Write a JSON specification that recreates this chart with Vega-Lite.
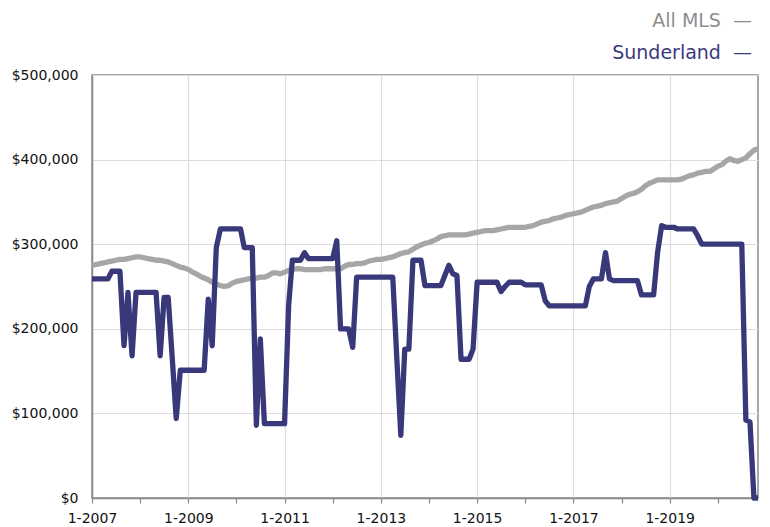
{
  "$schema": "https://vega.github.io/schema/vega-lite/v6.json",
  "autosize": "none",
  "width": 666,
  "height": 423,
  "padding": {"left": 92, "top": 75, "right": 12, "bottom": 29},
  "background": "white",
  "config": {
    "font": "DejaVu Sans",
    "view": {"stroke": "#8a8a8a", "strokeWidth": 1.5},
    "axis": {"labelFont": "DejaVu Sans", "labelColor": "#111", "domainColor": "#8a8a8a", "tickColor": "#8a8a8a", "gridColor": "#dcdcdc", "gridWidth": 1.2, "title": null}
  },
  "data": {"values": [
    {"date":"2007-01-01","All MLS":275000,"Sunderland":259000},
    {"date":"2007-02-01","All MLS":276000,"Sunderland":259000},
    {"date":"2007-03-01","All MLS":277000,"Sunderland":259000},
    {"date":"2007-04-01","All MLS":278000,"Sunderland":259000},
    {"date":"2007-05-01","All MLS":279000,"Sunderland":259000},
    {"date":"2007-06-01","All MLS":280000,"Sunderland":268000},
    {"date":"2007-07-01","All MLS":281000,"Sunderland":268000},
    {"date":"2007-08-01","All MLS":282000,"Sunderland":268000},
    {"date":"2007-09-01","All MLS":282000,"Sunderland":180000},
    {"date":"2007-10-01","All MLS":283000,"Sunderland":243000},
    {"date":"2007-11-01","All MLS":284000,"Sunderland":168000},
    {"date":"2007-12-01","All MLS":285000,"Sunderland":243000},
    {"date":"2008-01-01","All MLS":285000,"Sunderland":243000},
    {"date":"2008-02-01","All MLS":284000,"Sunderland":243000},
    {"date":"2008-03-01","All MLS":283000,"Sunderland":243000},
    {"date":"2008-04-01","All MLS":282000,"Sunderland":243000},
    {"date":"2008-05-01","All MLS":281000,"Sunderland":243000},
    {"date":"2008-06-01","All MLS":281000,"Sunderland":168000},
    {"date":"2008-07-01","All MLS":280000,"Sunderland":237000},
    {"date":"2008-08-01","All MLS":279000,"Sunderland":237000},
    {"date":"2008-09-01","All MLS":277000,"Sunderland":165000},
    {"date":"2008-10-01","All MLS":275000,"Sunderland":94000},
    {"date":"2008-11-01","All MLS":273000,"Sunderland":151000},
    {"date":"2008-12-01","All MLS":272000,"Sunderland":151000},
    {"date":"2009-01-01","All MLS":270000,"Sunderland":151000},
    {"date":"2009-02-01","All MLS":267000,"Sunderland":151000},
    {"date":"2009-03-01","All MLS":265000,"Sunderland":151000},
    {"date":"2009-04-01","All MLS":262000,"Sunderland":151000},
    {"date":"2009-05-01","All MLS":260000,"Sunderland":151000},
    {"date":"2009-06-01","All MLS":258000,"Sunderland":235000},
    {"date":"2009-07-01","All MLS":255000,"Sunderland":180000},
    {"date":"2009-08-01","All MLS":253000,"Sunderland":296000},
    {"date":"2009-09-01","All MLS":251000,"Sunderland":318000},
    {"date":"2009-10-01","All MLS":250000,"Sunderland":318000},
    {"date":"2009-11-01","All MLS":251000,"Sunderland":318000},
    {"date":"2009-12-01","All MLS":254000,"Sunderland":318000},
    {"date":"2010-01-01","All MLS":256000,"Sunderland":318000},
    {"date":"2010-02-01","All MLS":257000,"Sunderland":318000},
    {"date":"2010-03-01","All MLS":258000,"Sunderland":296000},
    {"date":"2010-04-01","All MLS":259000,"Sunderland":296000},
    {"date":"2010-05-01","All MLS":260000,"Sunderland":296000},
    {"date":"2010-06-01","All MLS":260000,"Sunderland":86000},
    {"date":"2010-07-01","All MLS":261000,"Sunderland":188000},
    {"date":"2010-08-01","All MLS":261000,"Sunderland":88000},
    {"date":"2010-09-01","All MLS":263000,"Sunderland":88000},
    {"date":"2010-10-01","All MLS":266000,"Sunderland":88000},
    {"date":"2010-11-01","All MLS":266000,"Sunderland":88000},
    {"date":"2010-12-01","All MLS":265000,"Sunderland":88000},
    {"date":"2011-01-01","All MLS":267000,"Sunderland":88000},
    {"date":"2011-02-01","All MLS":269000,"Sunderland":228000},
    {"date":"2011-03-01","All MLS":270000,"Sunderland":281000},
    {"date":"2011-04-01","All MLS":271000,"Sunderland":281000},
    {"date":"2011-05-01","All MLS":271000,"Sunderland":281000},
    {"date":"2011-06-01","All MLS":270000,"Sunderland":290000},
    {"date":"2011-07-01","All MLS":270000,"Sunderland":283000},
    {"date":"2011-08-01","All MLS":270000,"Sunderland":283000},
    {"date":"2011-09-01","All MLS":270000,"Sunderland":283000},
    {"date":"2011-10-01","All MLS":270000,"Sunderland":283000},
    {"date":"2011-11-01","All MLS":271000,"Sunderland":283000},
    {"date":"2011-12-01","All MLS":271000,"Sunderland":283000},
    {"date":"2012-01-01","All MLS":271000,"Sunderland":283000},
    {"date":"2012-02-01","All MLS":271000,"Sunderland":304000},
    {"date":"2012-03-01","All MLS":271000,"Sunderland":200000},
    {"date":"2012-04-01","All MLS":274000,"Sunderland":200000},
    {"date":"2012-05-01","All MLS":276000,"Sunderland":200000},
    {"date":"2012-06-01","All MLS":276000,"Sunderland":178000},
    {"date":"2012-07-01","All MLS":277000,"Sunderland":261000},
    {"date":"2012-08-01","All MLS":277000,"Sunderland":261000},
    {"date":"2012-09-01","All MLS":278000,"Sunderland":261000},
    {"date":"2012-10-01","All MLS":280000,"Sunderland":261000},
    {"date":"2012-11-01","All MLS":281000,"Sunderland":261000},
    {"date":"2012-12-01","All MLS":282000,"Sunderland":261000},
    {"date":"2013-01-01","All MLS":282000,"Sunderland":261000},
    {"date":"2013-02-01","All MLS":283000,"Sunderland":261000},
    {"date":"2013-03-01","All MLS":284000,"Sunderland":261000},
    {"date":"2013-04-01","All MLS":285000,"Sunderland":261000},
    {"date":"2013-05-01","All MLS":287000,"Sunderland":167000},
    {"date":"2013-06-01","All MLS":289000,"Sunderland":74000},
    {"date":"2013-07-01","All MLS":290000,"Sunderland":176000},
    {"date":"2013-08-01","All MLS":291000,"Sunderland":176000},
    {"date":"2013-09-01","All MLS":294000,"Sunderland":281000},
    {"date":"2013-10-01","All MLS":297000,"Sunderland":281000},
    {"date":"2013-11-01","All MLS":299000,"Sunderland":281000},
    {"date":"2013-12-01","All MLS":301000,"Sunderland":251000},
    {"date":"2014-01-01","All MLS":302000,"Sunderland":251000},
    {"date":"2014-02-01","All MLS":304000,"Sunderland":251000},
    {"date":"2014-03-01","All MLS":306000,"Sunderland":251000},
    {"date":"2014-04-01","All MLS":309000,"Sunderland":251000},
    {"date":"2014-05-01","All MLS":310000,"Sunderland":263000},
    {"date":"2014-06-01","All MLS":311000,"Sunderland":275000},
    {"date":"2014-07-01","All MLS":311000,"Sunderland":265000},
    {"date":"2014-08-01","All MLS":311000,"Sunderland":263000},
    {"date":"2014-09-01","All MLS":311000,"Sunderland":164000},
    {"date":"2014-10-01","All MLS":311000,"Sunderland":164000},
    {"date":"2014-11-01","All MLS":312000,"Sunderland":164000},
    {"date":"2014-12-01","All MLS":313000,"Sunderland":176000},
    {"date":"2015-01-01","All MLS":314000,"Sunderland":255000},
    {"date":"2015-02-01","All MLS":315000,"Sunderland":255000},
    {"date":"2015-03-01","All MLS":316000,"Sunderland":255000},
    {"date":"2015-04-01","All MLS":316000,"Sunderland":255000},
    {"date":"2015-05-01","All MLS":316000,"Sunderland":255000},
    {"date":"2015-06-01","All MLS":317000,"Sunderland":255000},
    {"date":"2015-07-01","All MLS":318000,"Sunderland":244000},
    {"date":"2015-08-01","All MLS":319000,"Sunderland":250000},
    {"date":"2015-09-01","All MLS":320000,"Sunderland":255000},
    {"date":"2015-10-01","All MLS":320000,"Sunderland":255000},
    {"date":"2015-11-01","All MLS":320000,"Sunderland":255000},
    {"date":"2015-12-01","All MLS":320000,"Sunderland":255000},
    {"date":"2016-01-01","All MLS":320000,"Sunderland":252000},
    {"date":"2016-02-01","All MLS":321000,"Sunderland":252000},
    {"date":"2016-03-01","All MLS":322000,"Sunderland":252000},
    {"date":"2016-04-01","All MLS":324000,"Sunderland":252000},
    {"date":"2016-05-01","All MLS":326000,"Sunderland":252000},
    {"date":"2016-06-01","All MLS":327000,"Sunderland":233000},
    {"date":"2016-07-01","All MLS":328000,"Sunderland":227000},
    {"date":"2016-08-01","All MLS":330000,"Sunderland":227000},
    {"date":"2016-09-01","All MLS":331000,"Sunderland":227000},
    {"date":"2016-10-01","All MLS":332000,"Sunderland":227000},
    {"date":"2016-11-01","All MLS":334000,"Sunderland":227000},
    {"date":"2016-12-01","All MLS":335000,"Sunderland":227000},
    {"date":"2017-01-01","All MLS":336000,"Sunderland":227000},
    {"date":"2017-02-01","All MLS":337000,"Sunderland":227000},
    {"date":"2017-03-01","All MLS":338000,"Sunderland":227000},
    {"date":"2017-04-01","All MLS":340000,"Sunderland":227000},
    {"date":"2017-05-01","All MLS":342000,"Sunderland":250000},
    {"date":"2017-06-01","All MLS":344000,"Sunderland":259000},
    {"date":"2017-07-01","All MLS":345000,"Sunderland":259000},
    {"date":"2017-08-01","All MLS":346000,"Sunderland":259000},
    {"date":"2017-09-01","All MLS":348000,"Sunderland":290000},
    {"date":"2017-10-01","All MLS":349000,"Sunderland":259000},
    {"date":"2017-11-01","All MLS":350000,"Sunderland":257000},
    {"date":"2017-12-01","All MLS":351000,"Sunderland":257000},
    {"date":"2018-01-01","All MLS":354000,"Sunderland":257000},
    {"date":"2018-02-01","All MLS":357000,"Sunderland":257000},
    {"date":"2018-03-01","All MLS":359000,"Sunderland":257000},
    {"date":"2018-04-01","All MLS":360000,"Sunderland":257000},
    {"date":"2018-05-01","All MLS":362000,"Sunderland":257000},
    {"date":"2018-06-01","All MLS":365000,"Sunderland":240000},
    {"date":"2018-07-01","All MLS":369000,"Sunderland":240000},
    {"date":"2018-08-01","All MLS":372000,"Sunderland":240000},
    {"date":"2018-09-01","All MLS":374000,"Sunderland":240000},
    {"date":"2018-10-01","All MLS":376000,"Sunderland":290000},
    {"date":"2018-11-01","All MLS":376000,"Sunderland":322000},
    {"date":"2018-12-01","All MLS":376000,"Sunderland":320000},
    {"date":"2019-01-01","All MLS":376000,"Sunderland":320000},
    {"date":"2019-02-01","All MLS":376000,"Sunderland":320000},
    {"date":"2019-03-01","All MLS":376000,"Sunderland":318000},
    {"date":"2019-04-01","All MLS":377000,"Sunderland":318000},
    {"date":"2019-05-01","All MLS":379000,"Sunderland":318000},
    {"date":"2019-06-01","All MLS":381000,"Sunderland":318000},
    {"date":"2019-07-01","All MLS":382000,"Sunderland":318000},
    {"date":"2019-08-01","All MLS":384000,"Sunderland":310000},
    {"date":"2019-09-01","All MLS":385000,"Sunderland":300000},
    {"date":"2019-10-01","All MLS":386000,"Sunderland":300000},
    {"date":"2019-11-01","All MLS":386000,"Sunderland":300000},
    {"date":"2019-12-01","All MLS":389000,"Sunderland":300000},
    {"date":"2020-01-01","All MLS":392000,"Sunderland":300000},
    {"date":"2020-02-01","All MLS":394000,"Sunderland":300000},
    {"date":"2020-03-01","All MLS":398000,"Sunderland":300000},
    {"date":"2020-04-01","All MLS":401000,"Sunderland":300000},
    {"date":"2020-05-01","All MLS":399000,"Sunderland":300000},
    {"date":"2020-06-01","All MLS":398000,"Sunderland":300000},
    {"date":"2020-07-01","All MLS":400000,"Sunderland":300000},
    {"date":"2020-08-01","All MLS":402000,"Sunderland":92000},
    {"date":"2020-09-01","All MLS":407000,"Sunderland":90000},
    {"date":"2020-10-01","All MLS":411000,"Sunderland":0},
    {"date":"2020-11-01","All MLS":413000,"Sunderland":0}
  ]},
  "transform": [{"fold": ["All MLS", "Sunderland"], "as": ["series", "price"]}],
  "mark": {"type": "line", "strokeWidth": 5.3, "strokeJoin": "round", "strokeCap": "butt"},
  "encoding": {
    "x": {
      "field": "date", "type": "temporal",
      "scale": {"type": "utc", "nice": false},
      "axis": {
        "tickCount": {"interval": "year", "step": 1},
        "labelExpr": "utcyear(datum.value) % 2 == 1 ? (utcmonth(datum.value) + 1) + '-' + utcyear(datum.value) : ''",
        "labelFontSize": 14,
        "labelPadding": 8,
        "labelFlush": false,
        "labelOverlap": false,
        "tickSize": 5,
        "tickWidth": 1.2,
        "domainWidth": 1.5,
        "grid": true,
        "gridOpacity": {"condition": {"test": "utcyear(datum.value) % 2 == 0", "value": 0}, "value": 1}
      }
    },
    "y": {
      "field": "price", "type": "quantitative",
      "scale": {"domain": [0, 500000], "nice": false},
      "axis": {
        "values": [0, 100000, 200000, 300000, 400000, 500000],
        "format": "$,.0f",
        "labelFontSize": 14,
        "ticks": false,
        "labelPadding": 14,
        "domainWidth": 1.5,
        "grid": true
      }
    },
    "color": {
      "field": "series", "type": "nominal",
      "scale": {"domain": ["All MLS", "Sunderland"], "range": ["#a6a6a6", "#38387a"]},
      "legend": {
        "orient": "none",
        "legendX": 641,
        "legendY": -64,
        "title": null,
        "direction": "vertical",
        "symbolSize": 0,
        "symbolOpacity": 0,
        "symbolStrokeWidth": 0,
        "labelOffset": 0,
        "labelAlign": "right",
        "labelFontSize": 19,
        "labelFont": "DejaVu Sans",
        "labelLimit": 0,
        "rowPadding": 12,
        "labelExpr": "datum.label + '\u00a0\u00a0\u2014'",
        "encode": {
          "labels": {"update": {"fill": {"signal": "datum.value === 'All MLS' ? '#8e8e8e' : '#3a3a7c'"}}}
        }
      }
    }
  }
}
